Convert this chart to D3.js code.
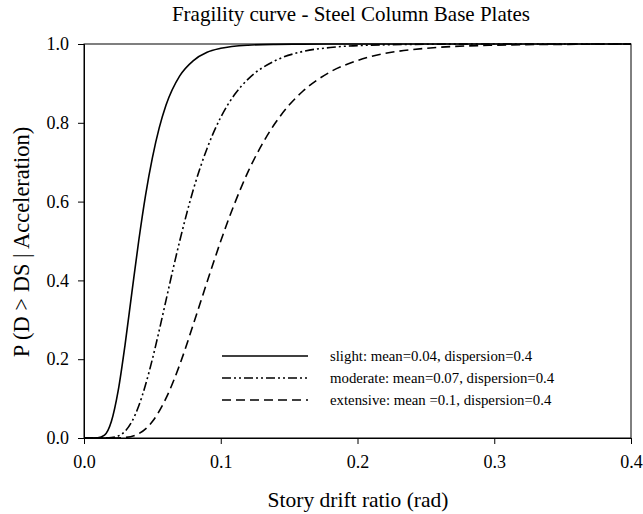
<!DOCTYPE html>
<html><head><meta charset="utf-8">
<script src="https://cdn.jsdelivr.net/npm/d3@7"></script>
<style>body{margin:0;background:#fff} svg text{font-family:"Liberation Serif","Times New Roman","DejaVu Serif",serif}</style>
</head><body>
<svg id="c" width="643" height="514"></svg>
<script>
const title = "Fragility curve - Steel Column Base Plates";
const xLabel = "Story drift ratio (rad)";
const yLabel = "P (D > DS | Acceleration)";
const xTicks = [0, 0.1, 0.2, 0.3, 0.4];
const yTicks = [0, 0.2, 0.4, 0.6, 0.8, 1.0];
const seriesNames = ["slight: mean=0.04, dispersion=0.4", "moderate: mean=0.07, dispersion=0.4", "extensive: mean =0.1, dispersion=0.4"];

const slightX = [0, 0.01, 0.015, 0.02, 0.025, 0.03, 0.035, 0.04, 0.045, 0.05, 0.055, 0.06, 0.07, 0.08, 0.09, 0.1, 0.12, 0.14, 0.16, 0.2, 0.3, 0.4];
const slightY = [0, 0.0003, 0.0071, 0.0416, 0.120, 0.236, 0.369, 0.5, 0.616, 0.711, 0.787, 0.845, 0.919, 0.958, 0.979, 0.989, 0.997, 0.9991, 0.9997, 1.0, 1.0, 1.0];

const moderateX = [0, 0.01, 0.02, 0.025, 0.03, 0.035, 0.04, 0.045, 0.05, 0.055, 0.06, 0.065, 0.07, 0.08, 0.09, 0.1, 0.11, 0.12, 0.14, 0.16, 0.18, 0.2, 0.25, 0.3, 0.4];
const moderateY = [0, 0, 0.0009, 0.005, 0.017, 0.0416, 0.081, 0.135, 0.200, 0.273, 0.350, 0.427, 0.5, 0.631, 0.735, 0.814, 0.871, 0.911, 0.958, 0.981, 0.991, 0.996, 0.9993, 0.9999, 1.0];

const extensiveX = [0, 0.02, 0.03, 0.04, 0.05, 0.06, 0.07, 0.08, 0.09, 0.1, 0.11, 0.12, 0.13, 0.14, 0.15, 0.16, 0.18, 0.2, 0.25, 0.3, 0.35, 0.4];
const extensiveY = [0, 0, 0.0013, 0.011, 0.0416, 0.101, 0.186, 0.289, 0.396, 0.5, 0.594, 0.676, 0.744, 0.800, 0.845, 0.880, 0.929, 0.958, 0.989, 0.997, 0.9991, 0.9997];

const dashes = [null, "9,3,2,3,2,3", "9,5"];

const svg = d3.select("#c");
const L = 84, R = 631, T = 44, B = 438;
const x = d3.scaleLinear().domain([0, 0.4]).range([L, R]);
const y = d3.scaleLinear().domain([0, 1]).range([B, T]);

svg.append("text").attr("x", 351).attr("y", 21).attr("text-anchor", "middle")
  .style("font-size", "21px").text(title);

svg.append("rect").attr("x", L).attr("y", T).attr("width", R - L).attr("height", B - T)
  .attr("fill", "none").attr("stroke", "#000").attr("stroke-width", 1);

const xa = svg.append("g").attr("transform", `translate(0,${B})`)
  .call(d3.axisBottom(x).tickValues(xTicks).tickFormat(d3.format(".1f")).tickSize(6).tickPadding(11));
const ya = svg.append("g").attr("transform", `translate(${L},0)`)
  .call(d3.axisLeft(y).tickValues(yTicks).tickFormat(d3.format(".1f")).tickSize(6).tickPadding(9));
[xa, ya].forEach(a => {
  a.attr("font-family", null).attr("font-size", null);
  a.selectAll("text").style("font-size", "18px").attr("fill", "#000");
  a.selectAll("line,path").attr("stroke", "#000");
});

svg.append("text").attr("x", 358).attr("y", 507).attr("text-anchor", "middle")
  .style("font-size", "21.5px").text(xLabel);
svg.append("text").attr("transform", `translate(29,242) rotate(-90)`).attr("text-anchor", "middle")
  .style("font-size", "22.5px").text(yLabel);

const series = [[slightX, slightY], [moderateX, moderateY], [extensiveX, extensiveY]];
const line = d3.line().x(d => x(d[0])).y(d => y(d[1])).curve(d3.curveMonotoneX);
series.forEach((s, i) => {
  const pts = s[0].map((v, j) => [v, s[1][j]]);
  svg.append("path").datum(pts).attr("d", line).attr("fill", "none")
    .attr("stroke", "#000").attr("stroke-width", 1.6)
    .attr("stroke-dasharray", dashes[i]);
});

const legY = [356, 378, 400];
seriesNames.forEach((n, i) => {
  svg.append("line").attr("x1", 222).attr("x2", 308).attr("y1", legY[i]).attr("y2", legY[i])
    .attr("stroke", "#000").attr("stroke-width", 1.6).attr("stroke-dasharray", dashes[i]);
  svg.append("text").attr("x", 330).attr("y", legY[i] + 5)
    .style("font-size", "14.8px").text(n);
});
</script>
</body></html>
